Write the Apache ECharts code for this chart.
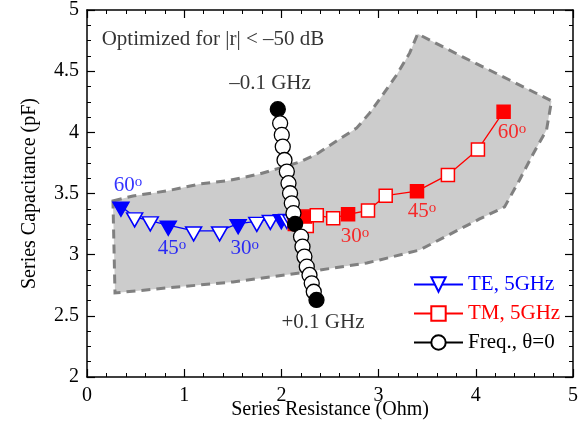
<!DOCTYPE html>
<html><head><meta charset="utf-8">
<script src="https://cdn.jsdelivr.net/npm/echarts@6/dist/echarts.min.js"></script>
<style>html,body{margin:0;padding:0;background:#fff}#c{width:588px;height:421px}</style>
</head><body><div id="c"></div>
<script>
// ---- data ----
const xTicks = [0, 1, 2, 3, 4, 5];
const yTicks = [2, 2.5, 3, 3.5, 4, 4.5, 5];

// gray optimized region boundary (Ohm, pF)
const regionR = [0.267,0.473,0.822,1.161,1.439,1.778,1.953,2.189,2.364,2.600,2.775,2.909,3.042,3.186,3.320,3.402,3.864,4.347,4.779,4.728,4.584,4.450,4.296,4.039,3.700,3.422,3.011,2.878,2.189,1.501,0.822,0.288];
const regionC = [3.439,3.480,3.521,3.578,3.603,3.660,3.701,3.758,3.823,3.946,4.036,4.159,4.306,4.470,4.649,4.805,4.617,4.428,4.257,4.020,3.815,3.611,3.390,3.292,3.153,3.038,2.957,2.932,2.850,2.777,2.728,2.687];

// TE, 5 GHz (angle sweep)
const teAngles = [60,55,50,45,40,35,30,25,20,15,10,5,0];
const teR = [0.349,0.490,0.651,0.836,1.097,1.364,1.555,1.747,1.886,1.999,2.056,2.097,2.138];
const teC = [3.396,3.309,3.276,3.241,3.194,3.194,3.254,3.272,3.288,3.295,3.296,3.292,3.276];

// TM, 5 GHz (angle sweep)
const tmAngles = [0,5,10,15,20,25,30,35,40,45,50,55,60];
const tmR = [2.138,2.189,2.261,2.244,2.364,2.533,2.686,2.891,3.073,3.395,3.713,4.022,4.286];
const tmC = [3.251,3.251,3.235,3.311,3.322,3.298,3.330,3.361,3.482,3.519,3.652,3.860,4.169];

// Frequency sweep, theta = 0
const freqR = [1.963,1.987,2.004,2.014,2.032,2.056,2.073,2.089,2.107,2.124,2.141,2.202,2.217,2.237,2.261,2.289,2.312,2.333,2.361];
const freqC = [4.189,4.074,3.979,3.883,3.774,3.679,3.584,3.502,3.420,3.339,3.251,3.147,3.065,2.984,2.902,2.834,2.766,2.697,2.630];
const freqKey = [0, 10, 18]; // -0.1 GHz, 0, +0.1 GHz

// annotations (text, position in Ohm/pF)
const notes = [
  {r:0.151, c:4.756, text:'Optimized for |r| < \u201350 dB', color:'#000000', align:'left'},
  {r:1.883, c:4.396, text:'\u20130.1 GHz', color:'#000000'},
  {r:2.428, c:2.442, text:'+0.1 GHz', color:'#000000'},
  {r:0.421, c:3.562, text:'{n|60}{s|o}', color:'#0000ff'},
  {r:0.874, c:3.047, text:'{n|45}{s|o}', color:'#0000ff'},
  {r:1.624, c:3.047, text:'{n|30}{s|o}', color:'#0000ff'},
  {r:2.757, c:3.145, text:'{n|30}{s|o}', color:'#ff0000'},
  {r:3.447, c:3.349, text:'{n|45}{s|o}', color:'#ff0000'},
  {r:4.373, c:3.995, text:'{n|60}{s|o}', color:'#ff0000'}
];

// ---- chart ----
const FONT = 'Liberation Serif';
const BLUE = '#0000ff', RED = '#ff0000', BLACK = '#000000';
const triPath = 'path://M0,0L20,0L10,18Z';
const chart = echarts.init(document.getElementById('c'), null, {renderer:'canvas'});

function mkAxis(pos, min, max, interval, split, showLabel, name, nameGap){
  return {
    type:'value', position:pos, min:min, max:max, interval:interval,
    axisLine:{show:true, onZero:false, lineStyle:{color:BLACK, width:1.5}},
    axisTick:{show:true, inside:true, length:8, lineStyle:{color:BLACK, width:1.2}},
    minorTick:{show:true, splitNumber:split, length:4, lineStyle:{color:BLACK, width:1}},
    splitLine:{show:false}, minorSplitLine:{show:false},
    axisLabel:{show:showLabel, color:BLACK, fontFamily:FONT, fontSize:20, margin:(pos==='bottom'?9:8), showMinLabel:true, showMaxLabel:true},
    name:name||'', nameLocation:'middle', nameGap:nameGap||0, nameMoveOverlap:false,
    nameTextStyle:{color:BLACK, fontFamily:FONT, fontSize:20}
  };
}
const xa0 = mkAxis('bottom', 0, 5, 1, 5, true, 'Series Resistance (Ohm)', 23);
const xa1 = mkAxis('top', 0, 5, 1, 5, false);
const ya0 = mkAxis('left', 2, 5, 0.5, 4, true, 'Series Capacitance (pF)', 47);
const ya1 = mkAxis('right', 2, 5, 0.5, 4, false);

const teData = teR.map((r,i)=>{
  const filled = teAngles[i] > 0 && teAngles[i] % 15 === 0;
  return {value:[r, teC[i]], itemStyle: filled ? {color:BLUE} : undefined};
});
const tmData = tmR.map((r,i)=>{
  const filled = tmAngles[i] > 0 && tmAngles[i] % 15 === 0;
  return {value:[r, tmC[i]], itemStyle: filled ? {color:RED} : undefined};
});
const freqData = freqR.map((r,i)=>({value:[r, freqC[i]], itemStyle: freqKey.indexOf(i)>=0 ? {color:BLACK} : undefined}));

const option = {
  animation:false,
  backgroundColor:'#ffffff',
  grid:{left:87, right:15, top:10, bottom:44, containLabel:false, outerBoundsMode:'none'},
  xAxis:[xa0, xa1],
  yAxis:[ya0, ya1],
  legend:{
    orient:'vertical', left:408, top:269, padding:5, itemWidth:49, itemHeight:18, itemGap:8,
    textStyle:{fontFamily:FONT, fontSize:21, lineHeight:21},
    data:[
      {name:'TE, 5GHz', textStyle:{color:BLUE}},
      {name:'TM, 5GHz', textStyle:{color:RED}},
      {name:'Freq., \u03b8=0', textStyle:{color:BLACK}}
    ]
  },
  series:[
    {
      type:'custom', name:'region', silent:true, z:1,
      data: regionR.map((r,i)=>[r, regionC[i]]),
      renderItem:function(params, api){
        if (params.dataIndex !== 0) return null;
        const pts = regionR.map((r,i)=>api.coord([r, regionC[i]]));
        return {type:'polygon', shape:{points:pts},
          style:{fill:'#cccccc', stroke:'#808080', lineWidth:3, lineDash:[9,6]}};
      }
    },
    {
      type:'line', name:'TE, 5GHz', z:3, data:teData,
      symbol:triPath, symbolSize:[16,14], symbolOffset:[0,3], showAllSymbol:true,
      lineStyle:{color:BLUE, width:1.3},
      itemStyle:{color:'#ffffff', borderColor:BLUE, borderWidth:1.5}
    },
    {
      type:'line', name:'TM, 5GHz', z:4, data:tmData,
      symbol:'rect', symbolSize:13, showAllSymbol:true,
      lineStyle:{color:RED, width:1.3},
      itemStyle:{color:'#ffffff', borderColor:RED, borderWidth:1.5}
    },
    {
      type:'line', name:'Freq., \u03b8=0', z:5, data:freqData,
      symbol:'circle', symbolSize:15, showAllSymbol:true,
      lineStyle:{color:BLACK, width:1},
      itemStyle:{color:'#ffffff', borderColor:BLACK, borderWidth:1.3}
    },
    {
      type:'scatter', name:'notes', z:10, silent:true,
      symbolSize:1, itemStyle:{color:'rgba(0,0,0,0)'},
      data: notes.map(n=>({
        value:[n.r, n.c],
        label:{show:true, position:'inside', formatter:n.text, color:n.color, align:n.align||'center', verticalAlign:'middle',
          fontFamily:FONT, fontSize:21, textBorderWidth:0,
          rich:{n:{fontFamily:FONT, fontSize:21, lineHeight:22, color:n.color},
                s:{fontFamily:FONT, fontSize:15, lineHeight:15, verticalAlign:'top', color:n.color}}}
      }))
    }
  ]
};
chart.setOption(option);
</script></body></html>
